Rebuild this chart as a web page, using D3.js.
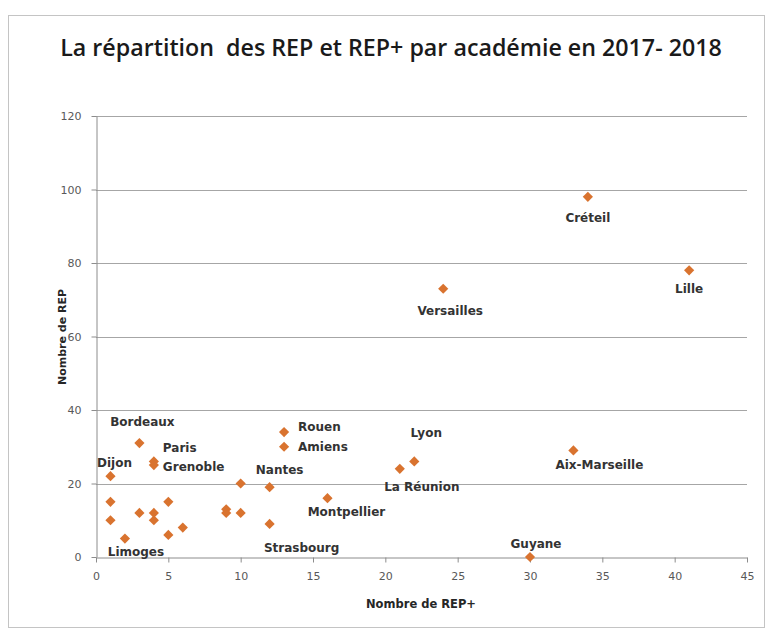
<!DOCTYPE html>
<html>
<head>
<meta charset="utf-8">
<script src="https://cdn.jsdelivr.net/npm/d3@7"></script>
<style>
  body { margin: 0; background: #fff; }
  svg { display: block; }
</style>
</head>
<body>
<div id="chart"></div>
<script>
// académies (blank = point without data label)
var academies = [ "Créteil", "Lille", "Versailles", "Aix-Marseille", "Guyane", "Lyon", "La Réunion",
  "Rouen", "Amiens", "Montpellier", "Nantes", "Strasbourg", "Bordeaux", "Paris", "Grenoble",
  "Dijon", "Limoges", "", "", "", "", "", "", "", "", "", "", "", "" ];
var repPlus = [ 34, 41, 24, 33, 30, 22, 21, 13, 13, 16, 12, 12, 3, 4, 4, 1, 2, 1, 1, 3, 4, 4, 5, 5, 6, 9, 9, 10, 10 ];
var rep     = [ 98, 78, 73, 29, 0, 26, 24, 34, 30, 16, 19, 9, 31, 26, 25, 22, 5, 15, 10, 12, 12, 10, 15, 6, 8, 13, 12, 12, 20 ];
var xTicks = [ 0, 5, 10, 15, 20, 25, 30, 35, 40, 45 ],
    yTicks = [ 0, 20, 40, 60, 80, 100, 120 ];

// where each data label sits relative to its point
var labelPos = {
  "Créteil":     { dx: 0,  dy: 21,  a: "middle" },
  "Lille":       { dx: 0,  dy: 19,  a: "middle" },
  "Versailles":  { dx: 7,  dy: 22,  a: "middle" },
  "Aix-Marseille": { dx: 26, dy: 15, a: "middle" },
  "Guyane":      { dx: 6,  dy: -13, a: "middle" },
  "Lyon":        { dx: 12, dy: -28, a: "middle" },
  "La Réunion":  { dx: 22, dy: 18,  a: "middle" },
  "Rouen":       { dx: 14, dy: -5,  a: "start" },
  "Amiens":      { dx: 14, dy: 0,   a: "start" },
  "Montpellier": { dx: 19, dy: 14,  a: "middle" },
  "Nantes":      { dx: 10, dy: -17, a: "middle" },
  "Strasbourg":  { dx: 32, dy: 24,  a: "middle" },
  "Bordeaux":    { dx: 3,  dy: -21, a: "middle" },
  "Paris":       { dx: 9,  dy: -13, a: "start" },
  "Grenoble":    { dx: 9,  dy: 2,   a: "start" },
  "Dijon":       { dx: 4,  dy: -13, a: "middle" },
  "Limoges":     { dx: 11, dy: 13,  a: "middle" }
};

var W = 767, H = 630;
var svg = d3.select("#chart").append("svg")
    .attr("width", W)
    .attr("height", H);

// outer chart frame
svg.append("rect")
    .attr("x", 8.5).attr("y", 15.5)
    .attr("width", 756).attr("height", 612)
    .attr("fill", "#fff")
    .attr("stroke", "#c4c4c4");

var scaleX = d3.scaleLinear().domain([0, 45]).range([96, 747]),
    scaleY = d3.scaleLinear().domain([0, 120]).range([557, 116]);

// title
var title = svg.append("text")
    .attr("x", 391).attr("y", 47)
    .attr("text-anchor", "middle")
    .attr("dominant-baseline", "central")
    .style("white-space", "pre")
    .style("font-family", "'Open Sans', sans-serif")
    .style("font-weight", 600)
    .style("font-size", "21px")
    .attr("fill", "#1a1a1a")
    .text("La répartition  des REP et REP+ par académie en 2017- 2018");
// fit width to the reference title
var tl = title.node().getComputedTextLength();
title.style("font-size", (21 * 662 / tl) + "px");

// gridlines
svg.append("g")
    .selectAll("line")
    .data(yTicks.filter(function(t) { return t > 0; }))
    .join("line")
    .attr("x1", scaleX(0)).attr("x2", scaleX(45))
    .attr("y1", function(d) { return Math.round(scaleY(d)) + 0.5; })
    .attr("y2", function(d) { return Math.round(scaleY(d)) + 0.5; })
    .attr("stroke", "#a6a6a6");

var axisX = d3.axisBottom(scaleX).tickValues(xTicks).tickSizeInner(5).tickSizeOuter(0).tickPadding(10),
    axisY = d3.axisLeft(scaleY).tickValues(yTicks).tickSizeInner(5).tickSizeOuter(0).tickPadding(10);

var gx = svg.append("g")
    .attr("transform", "translate(0," + (Math.round(scaleY(0)) + 0.5) + ")")
    .call(axisX);
var gy = svg.append("g")
    .attr("transform", "translate(" + (Math.round(scaleX(0)) + 0.5) + ",0)")
    .call(axisY);

[gx, gy].forEach(function(g) {
  g.select(".domain").attr("stroke", "#8c8c8c");
  g.selectAll(".tick line").attr("stroke", "#8c8c8c");
  g.selectAll(".tick text")
      .attr("fill", "#595959")
      .style("font-family", "'DejaVu Sans', sans-serif")
      .style("font-size", "11px");
});

// axis titles
svg.append("text")
    .attr("x", 421).attr("y", 604)
    .attr("text-anchor", "middle")
    .attr("dominant-baseline", "central")
    .style("font-family", "'DejaVu Sans', sans-serif")
    .style("font-weight", "bold")
    .style("font-size", "11.5px")
    .attr("fill", "#262626")
    .text("Nombre de REP+");
svg.append("text")
    .attr("transform", "translate(62,337) rotate(-90)")
    .attr("text-anchor", "middle")
    .attr("dominant-baseline", "central")
    .style("font-family", "'DejaVu Sans', sans-serif")
    .style("font-weight", "bold")
    .style("font-size", "11px")
    .attr("fill", "#262626")
    .text("Nombre de REP");

var points = academies.map(function(name, i) {
  return { name: name, x: repPlus[i], y: rep[i] };
});

// diamond markers
var diamond = d3.symbol().type(d3.symbolSquare).size(52);
svg.append("g")
    .selectAll("path")
    .data(points)
    .join("path")
    .attr("d", diamond)
    .attr("transform", function(d) {
      return "translate(" + scaleX(d.x) + "," + scaleY(d.y) + ") rotate(45)";
    })
    .attr("fill", "#d9732f");

// data labels
svg.append("g")
    .selectAll("text")
    .data(points.filter(function(d) { return d.name; }))
    .join("text")
    .attr("x", function(d) { return scaleX(d.x) + labelPos[d.name].dx; })
    .attr("y", function(d) { return scaleY(d.y) + labelPos[d.name].dy; })
    .attr("text-anchor", function(d) { return labelPos[d.name].a; })
    .attr("dominant-baseline", "central")
    .style("font-family", "'DejaVu Sans', sans-serif")
    .style("font-weight", "bold")
    .style("font-size", "12px")
    .attr("fill", "#333")
    .text(function(d) { return d.name; });
</script>
</body>
</html>
